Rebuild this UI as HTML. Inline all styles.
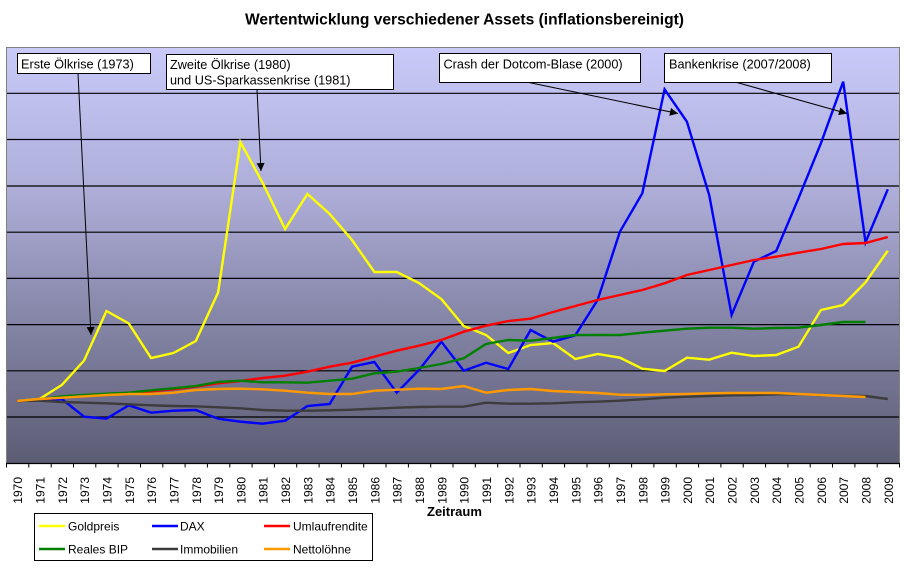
<!DOCTYPE html>
<html><head><meta charset="utf-8"><style>
html,body{margin:0;padding:0;background:#fff;}
svg{display:block;font-family:"Liberation Sans",Arial,sans-serif;}
</style></head><body>
<svg width="910" height="570" viewBox="0 0 910 570" xmlns="http://www.w3.org/2000/svg">
<defs>
<linearGradient id="bg" x1="0" y1="0" x2="0" y2="1">
<stop offset="0" stop-color="#cacafa"/>
<stop offset="0.35" stop-color="#adadd8"/>
<stop offset="0.65" stop-color="#8686a8"/>
<stop offset="1" stop-color="#5c5c74"/>
</linearGradient>
<marker id="ah" viewBox="0 0 10 10" refX="10" refY="5" markerWidth="9" markerHeight="8" markerUnits="userSpaceOnUse" orient="auto">
<path d="M0,0 L10,5 L0,10 z" fill="#000"/>
</marker>
</defs>
<rect x="0" y="0" width="910" height="570" fill="#fff"/>
<text x="245" y="24.5" font-size="15.5" font-weight="bold" fill="#000" textLength="439" lengthAdjust="spacingAndGlyphs">Wertentwicklung verschiedener Assets (inflationsbereinigt)</text>
<rect x="6" y="47" width="893" height="416" fill="url(#bg)"/>
<g stroke="#000" stroke-width="1.2">
<line x1="6" y1="93.3" x2="899" y2="93.3"/>
<line x1="6" y1="139.5" x2="899" y2="139.5"/>
<line x1="6" y1="186" x2="899" y2="186"/>
<line x1="6" y1="232.2" x2="899" y2="232.2"/>
<line x1="6" y1="278.4" x2="899" y2="278.4"/>
<line x1="6" y1="324.6" x2="899" y2="324.6"/>
<line x1="6" y1="370.8" x2="899" y2="370.8"/>
<line x1="6" y1="417" x2="899" y2="417"/>
</g>
<path d="M6.5,463 L6.5,47.5 L899.5,47.5 L899.5,463" fill="none" stroke="#808080" stroke-width="1"/>
<line x1="6" y1="463.5" x2="900" y2="463.5" stroke="#000" stroke-width="1.2"/>
<g stroke="#000" stroke-width="1">
<path d="M6.5,463V467.5M28.8,463V467.5M51.2,463V467.5M73.5,463V467.5M95.8,463V467.5M118.1,463V467.5M140.5,463V467.5M162.8,463V467.5M185.1,463V467.5M207.4,463V467.5M229.8,463V467.5M252.1,463V467.5M274.4,463V467.5M296.7,463V467.5M319.1,463V467.5M341.4,463V467.5M363.7,463V467.5M386,463V467.5M408.4,463V467.5M430.7,463V467.5M453,463V467.5M475.3,463V467.5M497.7,463V467.5M520,463V467.5M542.3,463V467.5M564.6,463V467.5M587,463V467.5M609.3,463V467.5M631.6,463V467.5M653.9,463V467.5M676.3,463V467.5M698.6,463V467.5M720.9,463V467.5M743.2,463V467.5M765.6,463V467.5M787.9,463V467.5M810.2,463V467.5M832.5,463V467.5M854.9,463V467.5M877.2,463V467.5M899.5,463V467.5"/>
</g>
<g fill="none" stroke-width="2.4" stroke-linejoin="miter" stroke-linecap="butt">
<polyline stroke="#ffff00" points="17.2,401 39.5,399 61.8,385 84.1,360.5 106.5,311 128.8,323.5 151.1,358 173.4,353 195.8,341 218.1,292.5 240.4,142 262.7,183 285.1,229 307.4,194 329.7,214 352,240 374.4,272 396.7,272 419,283 441.3,299 463.7,326 486,335 508.3,353 530.6,345 553,343 575.3,359 597.6,354 619.9,357.7 642.3,368.7 664.6,371 686.9,357.7 709.2,359.7 731.6,352.7 753.9,356 776.2,355 798.5,346.7 820.9,310 843.2,305 865.5,282.3 887.8,250.7"/>
<polyline stroke="#0000ff" points="17.2,401 39.5,400 61.8,399 84.1,416.7 106.5,418.7 128.8,405.3 151.1,412.7 173.4,410.7 195.8,410 218.1,418.7 240.4,421.7 262.7,423.7 285.1,420.7 307.4,406 329.7,404 352,366.7 374.4,362 396.7,392.7 419,370 441.3,341.7 463.7,370.7 486,362.7 508.3,369 530.6,330 553,341.7 575.3,335.3 597.6,300 619.9,231.7 642.3,193.3 664.6,89.3 686.9,121.7 709.2,195 731.6,315 753.9,261.7 776.2,251 798.5,198.3 820.9,143.3 843.2,81.7 865.5,242.3 887.8,189.3"/>
<polyline stroke="#ff0000" points="17.2,401 39.5,399.3 61.8,397.7 84.1,396 106.5,395 128.8,392.7 151.1,391.3 173.4,389.3 195.8,386.7 218.1,383.3 240.4,381 262.7,378 285.1,375.7 307.4,371.7 329.7,366.7 352,362.7 374.4,356.7 396.7,350.7 419,345.7 441.3,340 463.7,331.7 486,325.7 508.3,321 530.6,318.7 553,312 575.3,306 597.6,300 619.9,295 642.3,290 664.6,283.3 686.9,275 709.2,270 731.6,265 753.9,260 776.2,256.7 798.5,252.7 820.9,249 843.2,244 865.5,243 887.8,237"/>
<polyline stroke="#008000" points="17.2,401 39.5,399.3 61.8,396.3 84.1,395 106.5,393.7 128.8,392.7 151.1,390.3 173.4,388.3 195.8,386 218.1,382 240.4,380.7 262.7,382.3 285.1,382.3 307.4,382.7 329.7,380.7 352,378.7 374.4,373.3 396.7,371.7 419,368 441.3,364 463.7,358.3 486,344 508.3,340 530.6,340.7 553,338 575.3,335 597.6,335 619.9,335 642.3,332.7 664.6,330.7 686.9,328.7 709.2,327.7 731.6,327.7 753.9,328.7 776.2,328 798.5,327.7 820.9,325 843.2,322 865.5,322"/>
<polyline stroke="#3c3c3c" points="17.2,401 39.5,400.7 61.8,402 84.1,402.7 106.5,403.3 128.8,404.3 151.1,405.3 173.4,406 195.8,406.3 218.1,407.3 240.4,408.3 262.7,410 285.1,410.7 307.4,410.7 329.7,410.3 352,409.7 374.4,408.7 396.7,407.7 419,407 441.3,406.7 463.7,406.7 486,402.7 508.3,403.7 530.6,403.7 553,403.3 575.3,402.3 597.6,401.7 619.9,400.7 642.3,399.3 664.6,397.7 686.9,396.7 709.2,396 731.6,395.3 753.9,395 776.2,394.3 798.5,394.3 820.9,395 843.2,395.7 865.5,396 887.8,399"/>
<polyline stroke="#ff9900" points="17.2,401 39.5,399 61.8,397.7 84.1,396.3 106.5,395 128.8,394 151.1,394 173.4,392.7 195.8,390 218.1,389 240.4,388.7 262.7,389.3 285.1,390.7 307.4,392.7 329.7,394 352,394 374.4,390.7 396.7,389.7 419,388.7 441.3,389 463.7,386 486,392.7 508.3,390 530.6,389 553,391 575.3,392 597.6,393 619.9,394.7 642.3,395 664.6,394.3 686.9,394 709.2,393.3 731.6,393 753.9,393 776.2,393 798.5,394 820.9,395 843.2,396 865.5,397"/>
</g>
<g stroke="#000" stroke-width="1" fill="none">
<line x1="78" y1="73.5" x2="91" y2="335" marker-end="url(#ah)"/>
<line x1="257" y1="89.5" x2="261" y2="171" marker-end="url(#ah)"/>
<line x1="529" y1="82.5" x2="678" y2="113.5" marker-end="url(#ah)"/>
<line x1="737" y1="82.5" x2="847" y2="113.5" marker-end="url(#ah)"/>
</g>
<g fill="#fff" stroke="#000" stroke-width="1">
<rect x="17.5" y="53.5" width="133" height="20"/>
<rect x="166.5" y="54.5" width="227" height="35"/>
<rect x="439.5" y="53.5" width="201" height="29"/>
<rect x="664.5" y="53.5" width="167" height="29"/>
</g>
<g font-size="12.7" fill="#000">
<text x="21" y="68.5">Erste Ölkrise (1973)</text>
<text x="170" y="69">Zweite Ölkrise (1980)</text>
<text x="170" y="84.5">und US-Sparkassenkrise (1981)</text>
<text x="443.5" y="68.5">Crash der Dotcom-Blase (2000)</text>
<text x="669" y="68.5">Bankenkrise (2007/2008)</text>
</g>
<g font-size="12" fill="#000" text-anchor="end">
<text transform="translate(22.2,477) rotate(-90)">1970</text>
<text transform="translate(44.5,477) rotate(-90)">1971</text>
<text transform="translate(66.8,477) rotate(-90)">1972</text>
<text transform="translate(89.1,477) rotate(-90)">1973</text>
<text transform="translate(111.5,477) rotate(-90)">1974</text>
<text transform="translate(133.8,477) rotate(-90)">1975</text>
<text transform="translate(156.1,477) rotate(-90)">1976</text>
<text transform="translate(178.4,477) rotate(-90)">1977</text>
<text transform="translate(200.8,477) rotate(-90)">1978</text>
<text transform="translate(223.1,477) rotate(-90)">1979</text>
<text transform="translate(245.4,477) rotate(-90)">1980</text>
<text transform="translate(267.7,477) rotate(-90)">1981</text>
<text transform="translate(290.1,477) rotate(-90)">1982</text>
<text transform="translate(312.4,477) rotate(-90)">1983</text>
<text transform="translate(334.7,477) rotate(-90)">1984</text>
<text transform="translate(357,477) rotate(-90)">1985</text>
<text transform="translate(379.4,477) rotate(-90)">1986</text>
<text transform="translate(401.7,477) rotate(-90)">1987</text>
<text transform="translate(424,477) rotate(-90)">1988</text>
<text transform="translate(446.3,477) rotate(-90)">1989</text>
<text transform="translate(468.7,477) rotate(-90)">1990</text>
<text transform="translate(491,477) rotate(-90)">1991</text>
<text transform="translate(513.3,477) rotate(-90)">1992</text>
<text transform="translate(535.6,477) rotate(-90)">1993</text>
<text transform="translate(558,477) rotate(-90)">1994</text>
<text transform="translate(580.3,477) rotate(-90)">1995</text>
<text transform="translate(602.6,477) rotate(-90)">1996</text>
<text transform="translate(624.9,477) rotate(-90)">1997</text>
<text transform="translate(647.3,477) rotate(-90)">1998</text>
<text transform="translate(669.6,477) rotate(-90)">1999</text>
<text transform="translate(691.9,477) rotate(-90)">2000</text>
<text transform="translate(714.2,477) rotate(-90)">2001</text>
<text transform="translate(736.6,477) rotate(-90)">2002</text>
<text transform="translate(758.9,477) rotate(-90)">2003</text>
<text transform="translate(781.2,477) rotate(-90)">2004</text>
<text transform="translate(803.5,477) rotate(-90)">2005</text>
<text transform="translate(825.9,477) rotate(-90)">2006</text>
<text transform="translate(848.2,477) rotate(-90)">2007</text>
<text transform="translate(870.5,477) rotate(-90)">2008</text>
<text transform="translate(892.8,477) rotate(-90)">2009</text>
</g>
<text x="427" y="516" font-size="13" font-weight="bold" fill="#000">Zeitraum</text>
<rect x="34.5" y="513.5" width="338" height="47" fill="#fff" stroke="#000" stroke-width="1"/>
<g stroke-width="2.5">
<line x1="39" y1="526" x2="65" y2="526" stroke="#ffff00"/>
<line x1="152" y1="526" x2="178" y2="526" stroke="#0000ff"/>
<line x1="264" y1="526" x2="290" y2="526" stroke="#ff0000"/>
<line x1="39" y1="549" x2="65" y2="549" stroke="#008000"/>
<line x1="152" y1="549" x2="178" y2="549" stroke="#3c3c3c"/>
<line x1="264" y1="549" x2="290" y2="549" stroke="#ff9900"/>
</g>
<g font-size="12" fill="#000">
<text x="68" y="530.5">Goldpreis</text>
<text x="180" y="530.5">DAX</text>
<text x="293" y="530.5">Umlaufrendite</text>
<text x="68" y="553.5">Reales BIP</text>
<text x="180" y="553.5">Immobilien</text>
<text x="293" y="553.5">Nettolöhne</text>
</g>
</svg>
</body></html>
